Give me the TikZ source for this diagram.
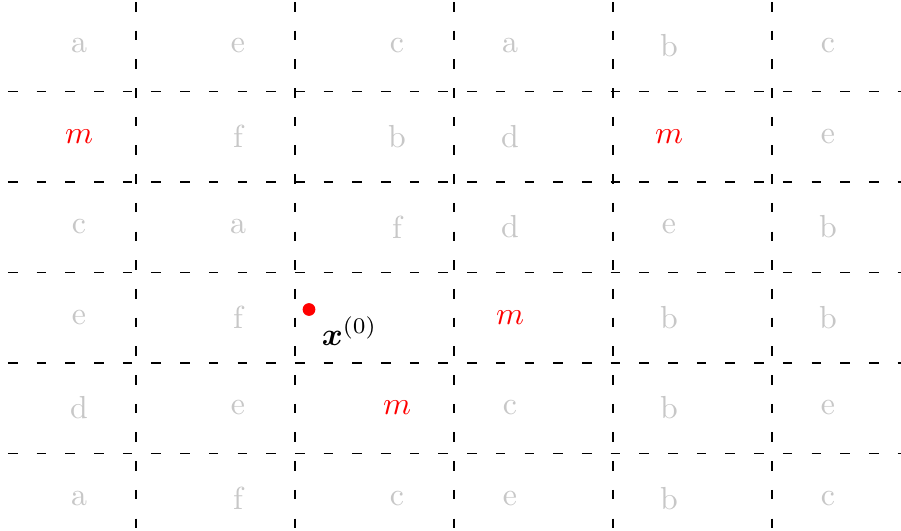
\documentclass[tikz,border=0pt]{standalone}
\usepackage{amsmath,amssymb}
\begin{document}
\begin{tikzpicture}[x=0.3136pt,y=-0.3136pt,
  gridline/.style={line width=0.55pt,dash pattern=on 3pt off 6pt},
  lab/.style={text=black!22,font=\normalsize},
  mlab/.style={text=red,font=\normalsize}]
\useasboundingbox (0,0) rectangle (901,531);
\begin{scope}
\clip (0,0) rectangle (901,531);
\foreach \yy in {91.5,182,272.5,363,453.5}
  \draw[gridline] (8,\yy) -- (905,\yy);
\foreach \xx in {136,295,454,613,772}
  \draw[gridline] (\xx,2) -- (\xx,535);
\end{scope}
% letters
\def\ra{46}\def\rb{136.5}\def\rc{227}\def\rd{317.5}\def\re{408}\def\rf{498.5}
\def\ca{79}\def\cb{238}\def\cc{397}\def\cd{510}\def\ce{669}\def\cf{828}
% row 1
\node[lab] (a1) at (\ca,\ra) {a};
\node[lab] (a2) at (\cb,\ra) {e};
\node[lab] (a3) at (\cc,\ra) {c};
\node[lab] (a4) at (\cd,\ra) {a};
\node[lab] (a5) at (\ce,\ra) {b};
\node[lab] (a6) at (\cf,\ra) {c};
% row 2
\node[mlab] (b1) at (\ca,\rb) {$m$};
\node[lab] (b2) at (\cb,\rb) {f};
\node[lab] (b3) at (\cc,\rb) {b};
\node[lab] (b4) at (\cd,\rb) {d};
\node[mlab] (b5) at (\ce,\rb) {$m$};
\node[lab] (b6) at (\cf,\rb) {e};
% row 3
\node[lab] (c1) at (\ca,\rc) {c};
\node[lab] (c2) at (\cb,\rc) {a};
\node[lab] (c3) at (\cc,\rc) {f};
\node[lab] (c4) at (\cd,\rc) {d};
\node[lab] (c5) at (\ce,\rc) {e};
\node[lab] (c6) at (\cf,\rc) {b};
% row 4
\node[lab] (d1) at (\ca,\rd) {e};
\node[lab] (d2) at (\cb,\rd) {f};
\node[mlab] (d4) at (\cd,\rd) {$m$};
\node[lab] (d5) at (\ce,\rd) {b};
\node[lab] (d6) at (\cf,\rd) {b};
% row 5
\node[lab] (e1) at (\ca,\re) {d};
\node[lab] (e2) at (\cb,\re) {e};
\node[mlab] (e3) at (\cc,\re) {$m$};
\node[lab] (e4) at (\cd,\re) {c};
\node[lab] (e5) at (\ce,\re) {b};
\node[lab] (e6) at (\cf,\re) {e};
% row 6
\node[lab] (f1) at (\ca,\rf) {a};
\node[lab] (f2) at (\cb,\rf) {f};
\node[lab] (f3) at (\cc,\rf) {c};
\node[lab] (f4) at (\cd,\rf) {e};
\node[lab] (f5) at (\ce,\rf) {b};
\node[lab] (f6) at (\cf,\rf) {c};
% start point
\fill[red] (309,309.5) circle (2pt);
\node (x0) at (349.5,331) {$\boldsymbol{x}^{(0)}$};
\end{tikzpicture}
\end{document}
